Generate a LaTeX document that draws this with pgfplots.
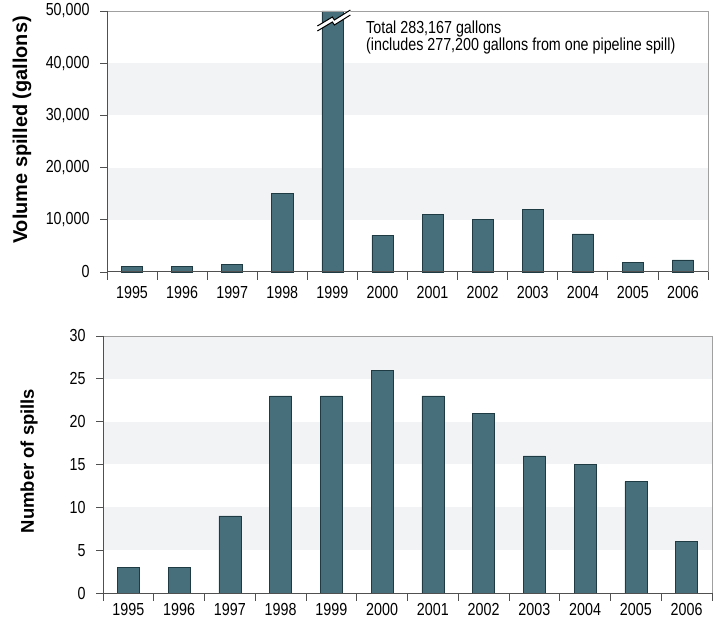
\documentclass[border=0pt]{standalone}
\usepackage{fontspec}
\setmainfont{Liberation Sans}[FakeStretch=0.82]
\newfontfamily\widefont{Liberation Sans}
\usepackage{pgfplots}
\pgfplotsset{compat=1.18}
\definecolor{barc}{HTML}{476F7B}
\definecolor{baredge}{HTML}{1E3A42}
\definecolor{band}{HTML}{F2F3F5}
\definecolor{framec}{HTML}{A0A0A0}
\definecolor{axisc}{HTML}{505050}

\pgfplotsset{spill/.style={
  scale only axis, xmin=-0.5, xmax=11.5, ymin=0, clip=false,
  axis line style={draw=none},
  xtick={0,1,2,3,4,5,6,7,8,9,10,11},
  xticklabels={1995,1996,1997,1998,1999,2000,2001,2002,2003,2004,2005,2006},
  minor xtick={-0.5,0.5,1.5,2.5,3.5,4.5,5.5,6.5,7.5,8.5,9.5,10.5,11.5},
  major x tick style={draw=none},
  minor x tick style={draw=axisc, line width=0.8pt},
  minor tick length=8bp, major tick length=7bp,
  y tick style={draw=axisc, line width=0.8pt},
  tick align=outside, xtick pos=bottom, ytick pos=left,
  scaled y ticks=false,
  tick label style={font=\fontsize{17.5}{20}\selectfont},
  yticklabel style={xshift=-7bp},
  /pgf/number format/assume math mode=true,
  /pgf/number format/1000 sep={,},
  ybar, bar width=21bp,
}}

\begin{document}
\begin{tikzpicture}[x=1bp,y=1bp]
\path[use as bounding box] (0,0) rectangle (723,619);

% ---- top chart: volume spilled ----
\begin{axis}[spill, at={(107bp,347bp)}, anchor=south west,
  width=601bp, height=261bp, ymax=50000,
  ytick={0,10000,20000,30000,40000,50000},
  x tick label style={yshift=-4bp}]
  \fill[band] (axis cs:-0.5,10000) rectangle (axis cs:11.5,20000);
  \fill[band] (axis cs:-0.5,30000) rectangle (axis cs:11.5,40000);
  \addplot[fill=barc, draw=baredge, line width=0.6pt] coordinates {
    (0,1000) (1,1000) (2,1500) (3,15000) (4,50000) (5,7000)
    (6,11000) (7,10000) (8,12000) (9,7300) (10,1900) (11,2300)};
  \draw[framec, line width=0.8pt] (rel axis cs:0,1) -- (rel axis cs:1,1) -- (rel axis cs:1,0);
  \draw[axisc, line width=1pt] (rel axis cs:0,1) -- (rel axis cs:0,0) -- (rel axis cs:1,0);
  \coordinate (brk) at (axis cs:4,47700);
\end{axis}
\begin{scope}[shift={(brk)}]
  \fill[white] (-15,-3) -- (0,6) -- (2,3) -- (18,13) -- (18,8) -- (2,-2) -- (0,1) -- (-15,-8) -- cycle;
  \draw[black, line width=1pt] (-15,-3) -- (0,6) -- (2,3) -- (18,13);
  \draw[black, line width=1pt] (-15,-8) -- (0,1) -- (2,-2) -- (18,8);
\end{scope}
\node[anchor=north west, align=left, inner sep=0pt,
  font=\fontsize{17.5}{17}\selectfont] at (366bp,598bp)
  {Total 283,167 gallons\\(includes 277,200 gallons from one pipeline spill)};
\node[rotate=90, font=\widefont\bfseries\fontsize{20}{24}\selectfont] at (22bp,489bp)
  {Volume spilled (gallons)};

% ---- bottom chart: number of spills ----
\begin{axis}[spill, at={(103bp,26bp)}, anchor=south west,
  width=609bp, height=257bp, ymax=30,
  ytick={0,5,10,15,20,25,30},
  bar width=22bp]
  \fill[band] (axis cs:-0.5,5) rectangle (axis cs:11.5,10);
  \fill[band] (axis cs:-0.5,15) rectangle (axis cs:11.5,20);
  \fill[band] (axis cs:-0.5,25) rectangle (axis cs:11.5,30);
  \addplot[fill=barc, draw=baredge, line width=0.6pt] coordinates {
    (0,3) (1,3) (2,9) (3,23) (4,23) (5,26)
    (6,23) (7,21) (8,16) (9,15) (10,13) (11,6)};
  \draw[framec, line width=0.8pt] (rel axis cs:0,1) -- (rel axis cs:1,1) -- (rel axis cs:1,0);
  \draw[axisc, line width=1pt] (rel axis cs:0,1) -- (rel axis cs:0,0) -- (rel axis cs:1,0);
\end{axis}
\node[rotate=90, font=\widefont\bfseries\fontsize{18.5}{22}\selectfont] at (29bp,158bp)
  {Number of spills};
\end{tikzpicture}
\end{document}
